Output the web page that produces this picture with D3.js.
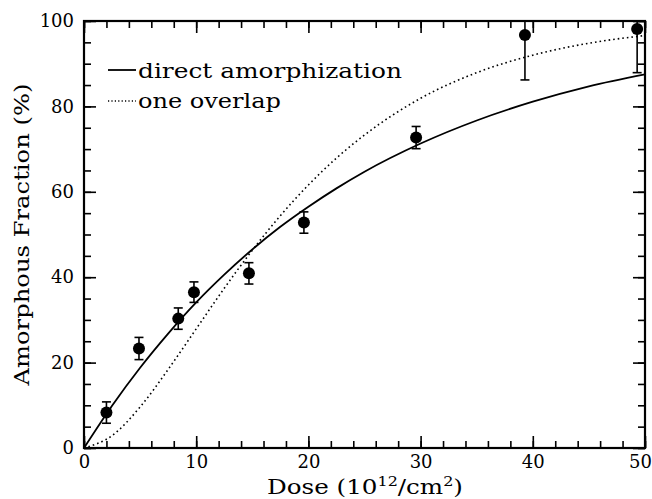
<!DOCTYPE html>
<html>
<head>
<meta charset="utf-8">
<script src="https://cdn.jsdelivr.net/npm/d3@7"></script>
<style>
  body { margin: 0; background: #fff; }
  text { font-family: "DejaVu Serif", serif; fill: #000; }
</style>
</head>
<body>
<div id="chart"></div>
<script>
// measured points (dose in 1e12/cm2, amorphous fraction %)
var doses = [2.0, 4.9, 8.4, 9.8, 14.7, 19.6, 29.6, 39.3, 49.3];
var fractions = [8.3, 23.3, 30.3, 36.5, 40.9, 52.8, 72.7, 96.7, 98.1];
var errors = [2.5, 2.6, 2.5, 2.4, 2.5, 2.5, 2.6, 10.5, 10.2];

// fit curves
var curveDose = [0, 2.5, 5, 7.5, 10, 12.5, 15, 17.5, 20, 22.5, 25, 30, 35, 40, 45, 50];
var directCurve = [0, 9.9, 18.8, 26.8, 34.1, 40.6, 46.5, 51.8, 56.5, 60.8, 64.7, 71.3, 76.7, 81.1, 84.7, 87.5];
var overlapCurve = [0, 2.9, 9.6, 18.4, 27.9, 37.4, 46.3, 54.4, 61.6, 67.9, 73.3, 81.9, 87.9, 92.0, 94.8, 96.6];

var xTicks = [0, 10, 20, 30, 40, 50];
var yTicks = [0, 20, 40, 60, 80, 100];
var legendLabels = ["direct amorphization", "one overlap"];

var W = 652, H = 499;
var margin = {top: 21, right: 7, bottom: 51, left: 84};
var width = W - margin.left - margin.right,
    height = H - margin.top - margin.bottom;

var svg = d3.select("#chart").append("svg")
    .attr("width", W)
    .attr("height", H);

var g = svg.append("g")
    .attr("transform", "translate(" + margin.left + "," + margin.top + ")");

var x = d3.scaleLinear().domain([0, 50]).range([0, width]);
var y = d3.scaleLinear().domain([0, 100]).range([height, 0]);

svg.append("defs").append("clipPath").attr("id", "clip")
  .append("rect").attr("width", width).attr("height", height);

// ticks on all four sides, inward
var xMinor = d3.range(0, 51, 2);
var yMinor = d3.range(0, 101, 5);

function drawTicks(axis) {
  axis.select(".domain").remove();
  axis.selectAll(".tick line").attr("stroke", "#000").attr("stroke-width", 1.6);
}

var bottomMinor = g.append("g").attr("transform", "translate(0," + height + ")")
    .call(d3.axisBottom(x).tickValues(xMinor).tickSize(-7).tickFormat(""));
drawTicks(bottomMinor);
var topMinor = g.append("g")
    .call(d3.axisTop(x).tickValues(xMinor).tickSize(-7).tickFormat(""));
drawTicks(topMinor);
var leftMinor = g.append("g")
    .call(d3.axisLeft(y).tickValues(yMinor).tickSize(-7).tickFormat(""));
drawTicks(leftMinor);
var rightMinor = g.append("g").attr("transform", "translate(" + width + ",0)")
    .call(d3.axisRight(y).tickValues(yMinor).tickSize(-7).tickFormat(""));
drawTicks(rightMinor);

var xAxis = g.append("g").attr("transform", "translate(0," + height + ")")
    .call(d3.axisBottom(x).tickValues(xTicks).tickSize(-12).tickPadding(7));
drawTicks(xAxis);
var topAxis = g.append("g")
    .call(d3.axisTop(x).tickValues(xTicks).tickSize(-12).tickFormat(""));
drawTicks(topAxis);
var yAxis = g.append("g")
    .call(d3.axisLeft(y).tickValues(yTicks).tickSize(-12).tickPadding(10));
drawTicks(yAxis);
var rightAxis = g.append("g").attr("transform", "translate(" + width + ",0)")
    .call(d3.axisRight(y).tickValues(yTicks).tickSize(-12).tickFormat(""));
drawTicks(rightAxis);

g.selectAll(".tick text")
    .style("font-family", "DejaVu Serif")
    .style("font-size", "18px")
    .attr("fill", "#000");

// last x label sits against the page edge
xAxis.selectAll(".tick text").filter(function(d) { return d === 50; }).attr("dx", -5);

// frame
g.append("rect")
    .attr("width", width).attr("height", height)
    .attr("fill", "none").attr("stroke", "#000").attr("stroke-width", 2.2);

// curves
var line = d3.line()
    .x(function(d) { return x(d[0]); })
    .y(function(d) { return y(d[1]); })
    .curve(d3.curveMonotoneX);

var plot = g.append("g").attr("clip-path", "url(#clip)");

plot.append("path")
    .datum(d3.zip(curveDose, directCurve))
    .attr("d", line)
    .attr("fill", "none").attr("stroke", "#000").attr("stroke-width", 1.8);

plot.append("path")
    .datum(d3.zip(curveDose, overlapCurve))
    .attr("d", line)
    .attr("fill", "none").attr("stroke", "#000").attr("stroke-width", 1.6)
    .attr("stroke-dasharray", "1.6,3");

// error bars + points
var pts = doses.map(function(d, i) { return {x: d, y: fractions[i], e: errors[i]}; });

var eb = plot.selectAll(".err").data(pts).enter().append("g").attr("class", "err")
    .attr("stroke", "#000").attr("stroke-width", 1.6);
eb.append("line")
    .attr("x1", function(d) { return x(d.x); }).attr("x2", function(d) { return x(d.x); })
    .attr("y1", function(d) { return y(d.y - d.e); }).attr("y2", function(d) { return y(d.y + d.e); });
eb.append("line")
    .attr("x1", function(d) { return x(d.x) - 4.5; }).attr("x2", function(d) { return x(d.x) + 4.5; })
    .attr("y1", function(d) { return y(d.y - d.e); }).attr("y2", function(d) { return y(d.y - d.e); });
eb.append("line")
    .attr("x1", function(d) { return x(d.x) - 4.5; }).attr("x2", function(d) { return x(d.x) + 4.5; })
    .attr("y1", function(d) { return y(d.y + d.e); }).attr("y2", function(d) { return y(d.y + d.e); });

g.selectAll(".dot").data(pts).enter().append("circle")
    .attr("class", "dot")
    .attr("cx", function(d) { return x(d.x); })
    .attr("cy", function(d) { return y(d.y); })
    .attr("r", 6)
    .attr("fill", "#000");

// legend
var leg = g.append("g");
leg.append("line").attr("x1", 24).attr("x2", 52).attr("y1", 49).attr("y2", 49)
    .attr("stroke", "#000").attr("stroke-width", 1.8);
leg.append("line").attr("x1", 24).attr("x2", 52).attr("y1", 80).attr("y2", 80)
    .attr("stroke", "#000").attr("stroke-width", 1.6).attr("stroke-dasharray", "1.2,2.2");
leg.append("text").attr("x", 54).attr("y", 57)
    .attr("textLength", 264).attr("lengthAdjust", "spacingAndGlyphs")
    .style("font-size", "20px").text(legendLabels[0]);
leg.append("text").attr("x", 54).attr("y", 87)
    .attr("textLength", 143).attr("lengthAdjust", "spacingAndGlyphs")
    .style("font-size", "20px").text(legendLabels[1]);

// axis titles
var xt = svg.append("text")
    .attr("x", 267).attr("y", 494)
    .attr("textLength", 196).attr("lengthAdjust", "spacingAndGlyphs")
    .style("font-size", "20px");
xt.append("tspan").text("Dose  (10");
xt.append("tspan").attr("dy", -8).style("font-size", "13px").text("12");
xt.append("tspan").attr("dy", 8).text("/cm");
xt.append("tspan").attr("dy", -8).style("font-size", "13px").text("2");
xt.append("tspan").attr("dy", 8).text(")");

svg.append("text")
    .attr("transform", "translate(29," + (margin.top + height / 2) + ") rotate(-90)")
    .attr("text-anchor", "middle")
    .attr("textLength", 302).attr("lengthAdjust", "spacingAndGlyphs")
    .style("font-size", "20px")
    .text("Amorphous Fraction (%)");
</script>
</body>
</html>
